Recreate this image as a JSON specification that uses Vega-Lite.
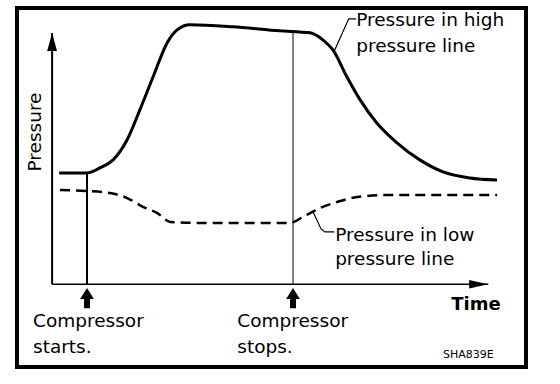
{
  "$schema": "https://vega.github.io/schema/vega-lite/v6.json",
  "width": 509,
  "height": 359,
  "autosize": {"type": "none"},
  "padding": {"left": 17, "top": 8, "right": 34, "bottom": 17},
  "background": "white",
  "config": {"view": {"stroke": "black", "strokeWidth": 4}, "text": {"font": "DejaVu Sans"}},
  "datasets": {
    "high": [
      {"t": 1.6, "p": 44.3}, {"t": 7.95, "p": 44.3}, {"t": 10.9, "p": 46.3}, {"t": 13.9, "p": 49.5},
      {"t": 17.1, "p": 57.5}, {"t": 20.0, "p": 69.4}, {"t": 23.0, "p": 82.5}, {"t": 26.2, "p": 96.1},
      {"t": 28.5, "p": 101.3}, {"t": 31.4, "p": 103.3}, {"t": 41.2, "p": 102.5}, {"t": 51.9, "p": 100.9},
      {"t": 58.8, "p": 100.1}, {"t": 61.7, "p": 97.3}, {"t": 64.0, "p": 93.3}, {"t": 67.2, "p": 82.5},
      {"t": 70.2, "p": 73.4}, {"t": 74.0, "p": 64.2}, {"t": 78.6, "p": 56.3}, {"t": 83.8, "p": 49.5},
      {"t": 89.1, "p": 44.7}, {"t": 95.2, "p": 42.3}, {"t": 101.4, "p": 41.5}
    ],
    "low": [
      {"t": 1.8, "p": 37.5}, {"t": 7.95, "p": 37.1}, {"t": 13.2, "p": 36.3}, {"t": 17.1, "p": 34.3},
      {"t": 20.7, "p": 30.8}, {"t": 23.9, "p": 28.4}, {"t": 26.9, "p": 24.8}, {"t": 33.7, "p": 24.4},
      {"t": 51.9, "p": 24.4}, {"t": 54.2, "p": 24.4}, {"t": 57.2, "p": 26.8}, {"t": 61.1, "p": 30.4},
      {"t": 64.9, "p": 32.7}, {"t": 69.5, "p": 34.7}, {"t": 76.3, "p": 35.5}, {"t": 101.4, "p": 35.5}
    ],
    "leaders": [
      {"id": "high", "k": 1, "t": 69.3, "p": 105.7}, {"id": "high", "k": 2, "t": 67.6, "p": 105.7}, {"id": "high", "k": 3, "t": 64.2, "p": 92.5},
      {"id": "low", "k": 1, "t": 59.5, "p": 28.6}, {"id": "low", "k": 2, "t": 61.3, "p": 22.0}, {"id": "low", "k": 3, "t": 62.2, "p": 20.8}, {"id": "low", "k": 4, "t": 64.3, "p": 20.8}
    ],
    "events": [
      {"event": "Compressor starts", "t": 7.95, "base": 0, "top": 44.3, "head": -3.7, "shaft": -5.1, "tail": -9.6},
      {"event": "Compressor stops", "t": 54.9, "base": 0, "top": 100.5, "head": -3.7, "shaft": -5.1, "tail": -9.6}
    ],
    "labels": [
      {"text": "Pressure in high", "t": 69.3, "p": 105.3},
      {"text": "pressure line", "t": 69.3, "p": 94.9},
      {"text": "Pressure in low", "t": 64.5, "p": 19.6},
      {"text": "pressure line", "t": 64.5, "p": 10.0},
      {"text": "Compressor", "t": -4.35, "p": -14.7},
      {"text": "starts.", "t": -4.35, "p": -25.0},
      {"text": "Compressor", "t": 42.2, "p": -14.7},
      {"text": "stops.", "t": 42.2, "p": -25.0}
    ]
  },
  "layer": [
    {
      "data": {"values": [{"t": 0, "p": 0, "p2": 100}]},
      "mark": {"type": "rule", "stroke": "black", "strokeWidth": 2},
      "encoding": {
        "x": {"field": "t", "type": "quantitative", "scale": {"domain": [-8, 108], "nice": false, "zero": false}, "axis": null},
        "y": {"field": "p", "type": "quantitative", "scale": {"domain": [-33, 110], "nice": false, "zero": false}, "axis": null},
        "y2": {"field": "p2"}
      }
    },
    {
      "data": {"values": [{"t": 0, "p": 0, "t2": 99.4}]},
      "mark": {"type": "rule", "stroke": "black", "strokeWidth": 1.5},
      "encoding": {
        "x": {"field": "t", "type": "quantitative"},
        "x2": {"field": "t2"},
        "y": {"field": "p", "type": "quantitative"}
      }
    },
    {
      "data": {"values": [{"t": 0, "p": 96.5}]},
      "mark": {"type": "point", "shape": "M-0.55,1L0,-1L0.55,1Z", "size": 324, "filled": true, "color": "black", "opacity": 1},
      "encoding": {"x": {"field": "t", "type": "quantitative"}, "y": {"field": "p", "type": "quantitative"}}
    },
    {
      "data": {"values": [{"t": 97.2, "p": 0}]},
      "mark": {"type": "point", "shape": "M-1,-0.45L1,0L-1,0.45Z", "size": 361, "filled": true, "color": "black", "opacity": 1},
      "encoding": {"x": {"field": "t", "type": "quantitative"}, "y": {"field": "p", "type": "quantitative"}}
    },
    {
      "data": {"name": "events"},
      "transform": [{"filter": "datum.t < 10"}],
      "mark": {"type": "rule", "stroke": "black", "strokeWidth": 2},
      "encoding": {"x": {"field": "t", "type": "quantitative"}, "y": {"field": "base", "type": "quantitative"}, "y2": {"field": "top"}}
    },
    {
      "data": {"name": "events"},
      "transform": [{"filter": "datum.t > 10"}],
      "mark": {"type": "rule", "stroke": "black", "strokeWidth": 1},
      "encoding": {"x": {"field": "t", "type": "quantitative"}, "y": {"field": "base", "type": "quantitative"}, "y2": {"field": "top"}}
    },
    {
      "data": {"name": "events"},
      "mark": {"type": "rule", "stroke": "black", "strokeWidth": 6, "strokeCap": "butt"},
      "encoding": {"x": {"field": "t", "type": "quantitative"}, "y": {"field": "shaft", "type": "quantitative"}, "y2": {"field": "tail"}}
    },
    {
      "data": {"name": "events"},
      "mark": {"type": "point", "shape": "M-1.25,1L0,-1L1.25,1Z", "size": 121, "filled": true, "color": "black", "opacity": 1},
      "encoding": {"x": {"field": "t", "type": "quantitative"}, "y": {"field": "head", "type": "quantitative"}}
    },
    {
      "data": {"name": "high"},
      "mark": {"type": "line", "stroke": "black", "strokeWidth": 3, "interpolate": "monotone"},
      "encoding": {"x": {"field": "t", "type": "quantitative"}, "y": {"field": "p", "type": "quantitative"}}
    },
    {
      "data": {"name": "low"},
      "mark": {"type": "line", "stroke": "black", "strokeWidth": 2.5, "strokeDash": [10, 6], "interpolate": "monotone"},
      "encoding": {"x": {"field": "t", "type": "quantitative"}, "y": {"field": "p", "type": "quantitative"}}
    },
    {
      "data": {"name": "leaders"},
      "mark": {"type": "line", "stroke": "black", "strokeWidth": 1.2},
      "encoding": {
        "x": {"field": "t", "type": "quantitative"},
        "y": {"field": "p", "type": "quantitative"},
        "detail": {"field": "id", "type": "nominal"},
        "order": {"field": "k", "type": "quantitative"}
      }
    },
    {
      "data": {"name": "labels"},
      "mark": {"type": "text", "align": "left", "baseline": "middle", "fontSize": 18.5, "color": "black"},
      "encoding": {"x": {"field": "t", "type": "quantitative"}, "y": {"field": "p", "type": "quantitative"}, "text": {"field": "text", "type": "nominal"}}
    },
    {
      "data": {"values": [{"text": "Pressure", "t": -3.9, "p": 60.6}]},
      "mark": {"type": "text", "align": "center", "baseline": "middle", "angle": 270, "fontSize": 18.5, "color": "black"},
      "encoding": {"x": {"field": "t", "type": "quantitative"}, "y": {"field": "p", "type": "quantitative"}, "text": {"field": "text", "type": "nominal"}}
    },
    {
      "data": {"values": [{"text": "Time", "t": 96.6, "p": -8.3}]},
      "mark": {"type": "text", "align": "center", "baseline": "middle", "fontSize": 18, "fontWeight": "bold", "color": "black"},
      "encoding": {"x": {"field": "t", "type": "quantitative"}, "y": {"field": "p", "type": "quantitative"}, "text": {"field": "text", "type": "nominal"}}
    },
    {
      "data": {"values": [{"text": "SHA839E", "t": 89.1, "p": -28.2}]},
      "mark": {"type": "text", "align": "left", "baseline": "middle", "fontSize": 11, "color": "black"},
      "encoding": {"x": {"field": "t", "type": "quantitative"}, "y": {"field": "p", "type": "quantitative"}, "text": {"field": "text", "type": "nominal"}}
    }
  ]
}
